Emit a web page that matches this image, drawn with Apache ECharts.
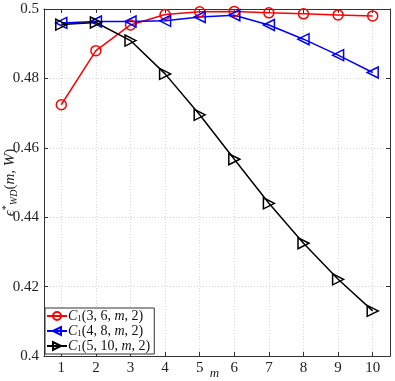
<!doctype html>
<html lang="en">
<head>
    <meta charset="UTF-8">
    <title>Chart</title>
    <style>
        * { margin: 0; padding: 0; }
        body { background: #fff; }
        #chart { width: 395px; height: 381px; }
    </style>
</head>
<body>
<div id="chart"></div>
<script src="https://cdn.jsdelivr.net/npm/echarts@6/dist/echarts.min.js"></script>
<script>
    // data
    const mValues = [1, 2, 3, 4, 5, 6, 7, 8, 9, 10];
    const c1_3_6 = [0.4724, 0.4880, 0.4954, 0.4984, 0.4992, 0.4993, 0.4989, 0.4986, 0.4983, 0.4980];
    const c1_4_8 = [0.4960, 0.4964, 0.4964, 0.4966, 0.4977, 0.4982, 0.4954, 0.4913, 0.4867, 0.4817];
    const c1_5_10 = [0.4955, 0.4961, 0.4909, 0.4813, 0.4695, 0.4567, 0.4440, 0.4325, 0.4221, 0.4130];
    const seriesNames = ['C1(3,6,m,2)', 'C1(4,8,m,2)', 'C1(5,10,m,2)'];
    const legendArgs = ['3, 6', '4, 8', '5, 10'];

    const serif = '"Liberation Serif", "DejaVu Serif", serif';
    const pair = (ys) => mValues.map((m, i) => [m, ys[i]]);

    const triLeft = 'path://M0,5 L10,0 L10,10 Z';
    const triRight = 'path://M10,5 L0,0 L0,10 Z';

    const makeSeries = function (name, ys, color, symbol, size) {
        return {
            name: name,
            type: 'line',
            data: pair(ys),
            symbol: symbol,
            symbolSize: size,
            showAllSymbol: true,
            lineStyle: { color: color, width: 1.5 },
            itemStyle: { color: 'transparent', borderColor: color, borderWidth: 1.5 },
            emphasis: { disabled: true },
            animation: false
        };
    };

    const chart = echarts.init(document.getElementById('chart'));
    const gridLine = { show: true, lineStyle: { color: '#d6d6d6', type: [1, 2], width: 1 } };
    const frame = { show: true, onZero: false, lineStyle: { color: '#333', width: 1 } };
    const tick = { show: true, inside: true, length: 4, lineStyle: { color: '#333' } };

    chart.setOption({
        backgroundColor: '#fff',
        animation: false,
        grid: { left: 44, right: 5, top: 9, bottom: 25, outerBoundsMode: 'none', containLabel: false },
        legend: {
            orient: 'vertical',
            left: 45,
            top: 308,
            padding: [1, 4, 1, 1],
            itemGap: 1,
            itemWidth: 20,
            itemHeight: 10,
            backgroundColor: '#fff',
            borderColor: '#333',
            borderWidth: 1,
            borderRadius: 0,
            data: seriesNames,
            formatter: function (name) {
                const i = seriesNames.indexOf(name);
                return '{c|C}{s|1}{t|(' + legendArgs[i] + ', }{i|m}{t|, 2)}';
            },
            textStyle: {
                padding: [0, 0, 0, -4],
                rich: {
                    c: { fontFamily: serif, fontStyle: 'italic', fontSize: 14, color: '#111', lineHeight: 14 },
                    s: { fontFamily: serif, fontSize: 9, color: '#111', lineHeight: 9, verticalAlign: 'bottom' },
                    t: { fontFamily: serif, fontSize: 14, color: '#111', lineHeight: 14 },
                    i: { fontFamily: serif, fontStyle: 'italic', fontSize: 14, color: '#111', lineHeight: 14 }
                }
            }
        },
        xAxis: [{
            type: 'value',
            min: 0.5,
            max: 10.5,
            name: 'm',
            nameLocation: 'middle',
            nameGap: 11,
            nameMoveOverlap: false,
            nameTextStyle: { fontFamily: serif, fontStyle: 'italic', fontSize: 13, color: '#222', padding: [0, 5, 0, 0] },
            axisLine: frame,
            axisTick: Object.assign({ customValues: mValues }, tick),
            axisLabel: { customValues: mValues, fontFamily: serif, fontSize: 15, color: '#222', margin: 5 },
            splitLine: gridLine
        }, {
            type: 'value',
            position: 'top',
            min: 0.5,
            max: 10.5,
            axisLine: frame,
            axisTick: Object.assign({ customValues: mValues }, tick),
            axisLabel: { show: false },
            splitLine: { show: false }
        }],
        yAxis: [{
            type: 'value',
            min: 0.4,
            max: 0.5,
            interval: 0.02,
            name: '{e|ϵ}{sup|*}{sub|WD}{t|(}{i|m, W}{t|)}',
            nameLocation: 'middle',
            nameGap: 25,
            nameMoveOverlap: false,
            nameTextStyle: {
                rich: {
                    e: { fontFamily: serif, fontStyle: 'italic', fontSize: 15, color: '#222', lineHeight: 18 },
                    sup: { fontFamily: serif, fontSize: 10, color: '#222', lineHeight: 10, verticalAlign: 'top' },
                    sub: { fontFamily: serif, fontStyle: 'italic', fontSize: 10, color: '#222', lineHeight: 10, verticalAlign: 'bottom' },
                    t: { fontFamily: serif, fontSize: 15, color: '#222', lineHeight: 18 },
                    i: { fontFamily: serif, fontStyle: 'italic', fontSize: 15, color: '#222', lineHeight: 18 }
                }
            },
            axisLine: frame,
            axisTick: tick,
            axisLabel: {
                fontFamily: serif, fontSize: 15, color: '#222', margin: 5,
                formatter: (v) => String(+v.toFixed(2))
            },
            splitLine: gridLine
        }, {
            type: 'value',
            position: 'right',
            min: 0.4,
            max: 0.5,
            interval: 0.02,
            axisLine: frame,
            axisTick: tick,
            axisLabel: { show: false },
            splitLine: { show: false }
        }],
        series: [
            makeSeries(seriesNames[0], c1_3_6, '#ff0000', 'circle', 10),
            makeSeries(seriesNames[1], c1_4_8, '#0000ff', triLeft, 11),
            makeSeries(seriesNames[2], c1_5_10, '#000000', triRight, 11)
        ]
    });
</script>
</body>
</html>
